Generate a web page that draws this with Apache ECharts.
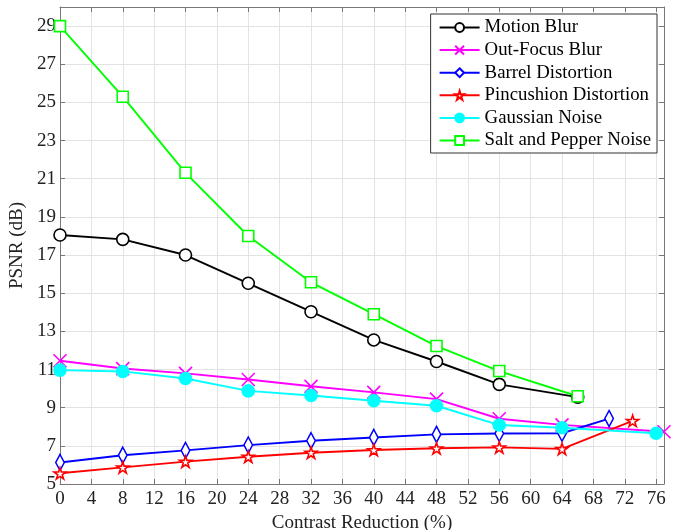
<!DOCTYPE html>
<html>
<head>
<meta charset="utf-8">
<script src="https://cdn.jsdelivr.net/npm/echarts@6/dist/echarts.min.js"></script>
<style>html,body{margin:0;padding:0;background:#fff;}#c{width:678px;height:530px;}</style>
</head>
<body>
<div id="c"></div>
<script>
const xMotion = [0,8,16,24,32,40,48,56,66];
const yMotion = [18.05,17.82,17.0,15.52,14.03,12.55,11.42,10.22,9.55];
const xOutFocus = [0,8,16,24,32,40,48,56,64,77];
const yOutFocus = [11.46,11.05,10.8,10.48,10.12,9.8,9.45,8.42,8.1,7.74];
const xBarrel = [0,8,16,24,32,40,48,56,64,70];
const yBarrel = [6.13,6.51,6.76,7.04,7.27,7.44,7.6,7.65,7.66,8.43];
const xPincushion = [0,8,16,24,32,40,48,56,64,73];
const yPincushion = [5.56,5.87,6.17,6.43,6.64,6.78,6.87,6.92,6.84,8.31];
const xGaussian = [0,8,16,24,32,40,48,56,64,76];
const yGaussian = [10.97,10.9,10.53,9.88,9.64,9.36,9.1,8.09,7.95,7.66];
const xSaltPepper = [0,8,16,24,32,40,48,56,66];
const ySaltPepper = [29.0,25.3,21.31,18.0,15.57,13.9,12.23,10.92,9.6];
const seriesNames = ['Motion Blur','Out-Focus Blur','Barrel Distortion','Pincushion Distortion','Gaussian Noise','Salt and Pepper Noise'];

const FONT = '"Liberation Serif", "Times New Roman", serif';
const pairs = (xs, ys) => xs.map((x, i) => [x, ys[i]]);
const STAR = 'path://M50,0 L61,35 L98,35 L68,57 L79,91 L50,70 L21,91 L32,57 L2,35 L39,35 Z';
const CROSS = 'path://M0,0L10,10M10,0L0,10';
const DIAMOND = 'path://M5,0L10,7L5,14L0,7Z';

function mk(name, data, color, symbol, size, filled) {
  return {
    name, type: 'line', data, symbol, symbolSize: size, symbolKeepAspect: true,
    clip: false,
    lineStyle: { color, width: 1.9 },
    itemStyle: { color: filled ? color : '#fff', borderColor: color, borderWidth: 1.6 },
    emphasis: { disabled: true }
  };
}

const chart = echarts.init(document.getElementById('c'), null, { renderer: 'canvas' });
const axisCommonX = { type: 'value', min: 0, max: 77, interval: 4 };
const axisCommonY = { type: 'value', min: 5, max: 30, interval: 2 };
chart.setOption({
  animation: false,
  backgroundColor: '#fff',
  grid: { left: 60, right: 14, top: 7, bottom: 46, containLabel: false, outerBoundsMode: 'none' },
  legend: {
    orient: 'vertical', right: 21, top: 14,
    data: seriesNames,
    itemWidth: 40, itemHeight: 11, itemGap: 3.6,
    padding: [4, 6, 3, 8],
    borderColor: '#333', borderWidth: 1, backgroundColor: '#fff',
    textStyle: { fontFamily: FONT, fontSize: 18.8, color: '#000', lineHeight: 19 }
  },
  xAxis: [
    Object.assign({}, axisCommonX, {
      position: 'bottom',
      name: 'Contrast Reduction (%)', nameLocation: 'middle', nameGap: 27,
      nameTextStyle: { fontFamily: FONT, fontSize: 19, color: '#222' },
      axisLine: { show: true, onZero: false, lineStyle: { color: '#777', width: 1 } },
      axisTick: { show: true, inside: true, length: 5, lineStyle: { color: '#777' } },
      axisLabel: { fontFamily: FONT, fontSize: 19, color: '#222', margin: 6, showMaxLabel: false },
      splitLine: { show: true, lineStyle: { color: '#e3e3e3', width: 1 } }
    }),
    Object.assign({}, axisCommonX, {
      position: 'top',
      axisLine: { show: true, onZero: false, lineStyle: { color: '#777', width: 1 } },
      axisTick: { show: true, inside: true, length: 5, lineStyle: { color: '#777' } },
      axisLabel: { show: false },
      splitLine: { show: false }
    })
  ],
  yAxis: [
    Object.assign({}, axisCommonY, {
      position: 'left',
      name: 'PSNR (dB)', nameLocation: 'middle', nameGap: 24,
      nameTextStyle: { fontFamily: FONT, fontSize: 19, color: '#222' },
      axisLine: { show: true, onZero: false, lineStyle: { color: '#777', width: 1 } },
      axisTick: { show: true, inside: true, length: 5, lineStyle: { color: '#777' } },
      axisLabel: { fontFamily: FONT, fontSize: 19, color: '#222', margin: 4, showMaxLabel: false },
      splitLine: { show: true, lineStyle: { color: '#e3e3e3', width: 1 } }
    }),
    Object.assign({}, axisCommonY, {
      position: 'right',
      axisLine: { show: true, onZero: false, lineStyle: { color: '#777', width: 1 } },
      axisTick: { show: true, inside: true, length: 5, lineStyle: { color: '#777' } },
      axisLabel: { show: false },
      splitLine: { show: false }
    })
  ],
  series: [
    mk(seriesNames[0], pairs(xMotion, yMotion), '#000000', 'circle', 12, false),
    mk(seriesNames[1], pairs(xOutFocus, yOutFocus), '#ff00ff', CROSS, 13, false),
    mk(seriesNames[2], pairs(xBarrel, yBarrel), '#0000ff', DIAMOND, [12, 16], false),
    mk(seriesNames[3], pairs(xPincushion, yPincushion), '#ff0000', STAR, 12, false),
    mk(seriesNames[4], pairs(xGaussian, yGaussian), '#00ffff', 'circle', 12, true),
    mk(seriesNames[5], pairs(xSaltPepper, ySaltPepper), '#00ff00', 'rect', 11, false)
  ]
});
</script>
</body>
</html>
